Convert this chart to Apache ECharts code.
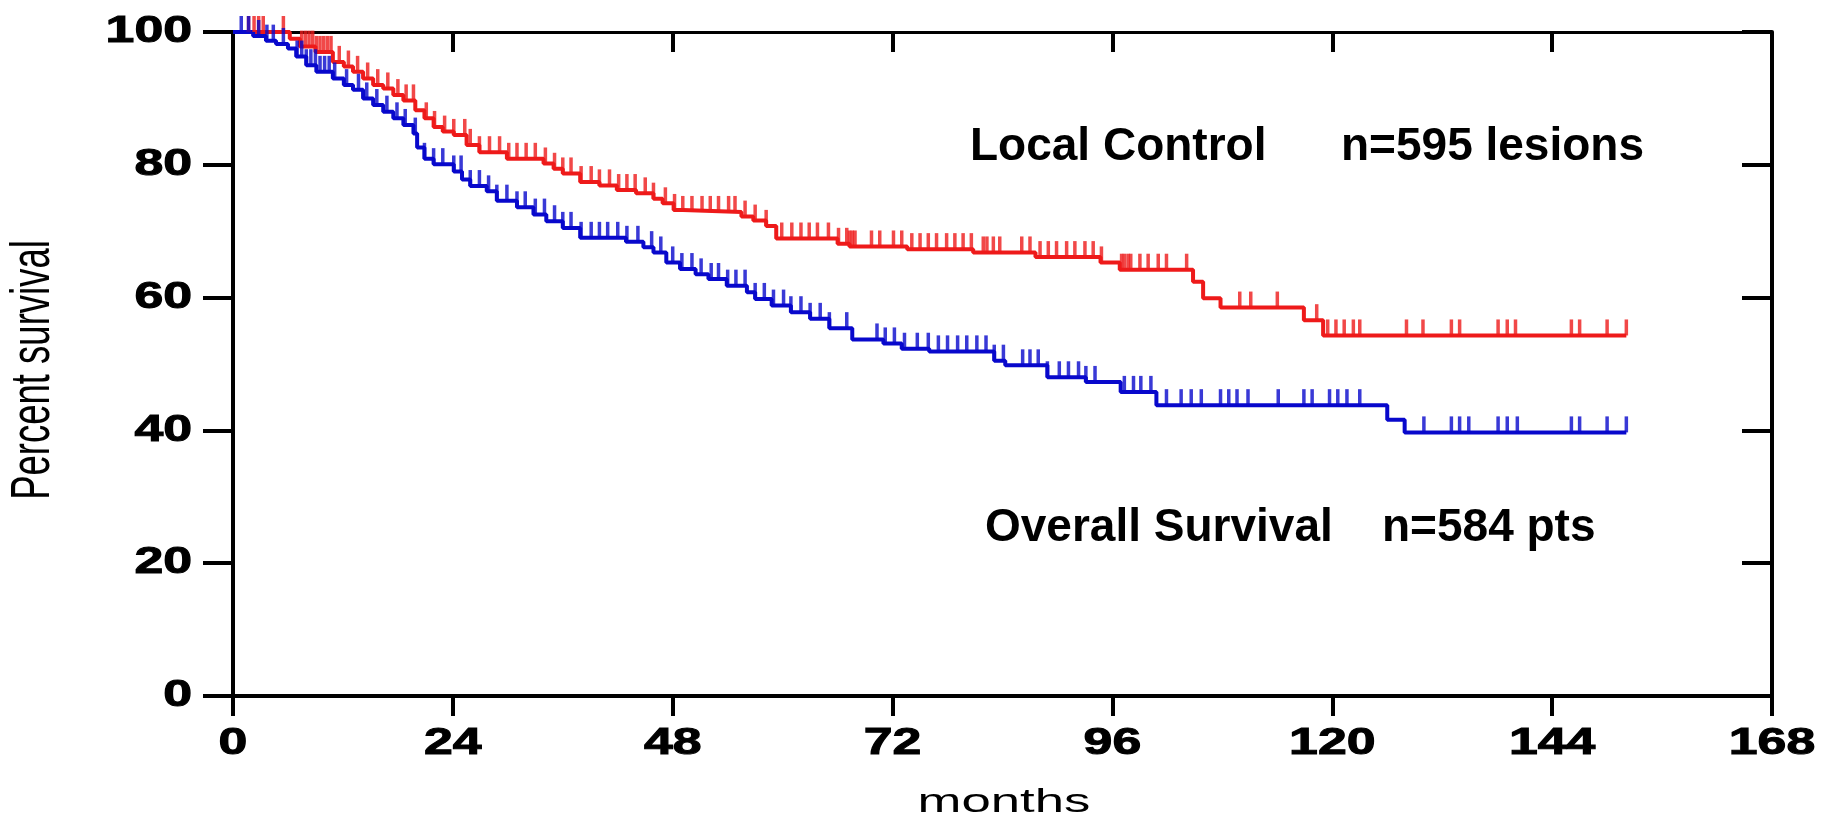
<!DOCTYPE html>
<html>
<head>
<meta charset="utf-8">
<title>Local control and overall survival</title>
<script src="https://cdn.jsdelivr.net/npm/echarts/dist/echarts.min.js"></script>
<style>
  html, body { margin: 0; padding: 0; background: #ffffff; }
  #chart { width: 1821px; height: 819px; }
</style>
</head>
<body>
<div id="chart"></div>
<script>
// Axis ticks
const monthTicks = [0, 24, 48, 72, 96, 120, 144, 168];
const percentTicks = [0, 20, 40, 60, 80, 100];

// Kaplan-Meier steps: [month, percent surviving after the event at that month]
const localControlSteps = [
  [0, 100], [6.2, 99.0], [7.3, 97.8], [9.0, 97.0], [10.9, 95.5], [12.1, 94.8],
  [13.1, 94.0], [14.2, 93.0], [15.3, 92.0], [16.4, 91.5], [17.5, 90.5], [18.6, 89.7],
  [19.9, 88.2], [20.9, 87.0], [21.9, 85.7], [22.9, 85.0], [24.1, 84.5], [25.5, 83.0],
  [26.9, 81.9], [29.9, 80.9], [33.9, 80.2], [35.0, 79.4], [36.0, 78.7], [37.9, 77.4],
  [40.0, 76.9], [41.9, 76.2], [44.0, 75.7], [45.9, 74.9], [46.9, 74.2], [48.1, 73.2],
  [49.1, 72.9], [55.5, 72.2], [56.8, 71.6], [58.2, 70.8], [59.3, 68.9], [66.0, 68.1],
  [67.3, 67.7], [73.6, 67.3], [80.8, 66.8], [87.6, 66.1], [94.7, 65.3], [96.8, 64.2],
  [104.8, 62.4], [105.9, 59.9], [107.8, 58.5], [116.9, 56.6], [119.0, 54.3], [152.1, 54.3]
];
const overallSurvivalSteps = [
  [0, 100], [2.2, 99.4], [3.6, 98.7], [4.7, 98.2], [6.0, 97.5], [6.9, 96.3],
  [8.0, 95.0], [9.1, 94.0], [10.9, 93.0], [12.1, 92.0], [13.1, 91.3], [14.2, 90.0],
  [15.3, 89.0], [16.4, 88.0], [17.5, 87.0], [18.6, 86.0], [19.7, 84.7], [20.1, 82.6],
  [20.9, 80.9], [21.9, 80.1], [24.1, 79.0], [25.0, 77.8], [25.9, 76.8], [27.7, 76.0],
  [28.8, 74.6], [31.0, 73.6], [32.8, 72.5], [34.2, 71.5], [36.0, 70.5], [37.9, 69.0],
  [42.9, 68.4], [44.8, 67.6], [45.9, 66.8], [47.3, 65.3], [48.8, 64.3], [50.5, 63.5],
  [51.9, 62.8], [53.9, 61.8], [56.1, 60.8], [57.0, 59.8], [58.8, 58.8], [60.9, 57.8],
  [63.0, 56.8], [65.1, 55.4], [67.6, 53.7], [71.0, 53.1], [73.0, 52.3], [76.0, 51.9],
  [83.1, 50.5], [84.3, 49.8], [88.9, 48.0], [93.1, 47.3], [96.9, 45.8], [100.8, 43.8],
  [126.0, 41.6], [127.9, 39.7], [152.1, 39.7]
];

// Censoring times (months)
const localControlCensored = [
  1.7, 2.3, 2.8, 3.3, 5.5, 7.5, 7.9, 8.3, 8.7, 9.1, 9.5, 9.9, 10.3, 10.7, 11.6, 12.6,
  13.6, 14.7, 15.8, 16.9, 18.0, 18.9, 19.7, 21.1, 22.0, 23.1, 24.1, 25.3, 25.9, 26.9,
  28.0, 29.1, 30.1, 31.0, 32.0, 33.0, 34.1, 35.1, 36.0, 36.9, 38.0, 39.1, 40.0, 41.1,
  42.1, 43.0, 43.9, 45.0, 45.9, 47.2, 48.2, 49.1, 50.1, 51.2, 52.1, 53.0, 54.1, 54.8,
  55.9, 57.0, 58.2, 59.9, 61.0, 62.0, 62.9, 63.8, 65.0, 66.1, 67.0, 67.3, 67.6, 67.9,
  69.7, 70.6, 72.1, 73.0, 74.1, 75.0, 75.9, 76.8, 77.9, 78.8, 79.7, 80.6, 81.9, 82.3,
  83.0, 83.7, 86.1, 87.0, 88.1, 89.0, 89.9, 91.0, 91.9, 93.0, 93.9, 94.8, 97.0, 97.3,
  97.7, 98.0, 99.0, 99.9, 101.0, 101.9, 104.1, 109.9, 111.1, 114.0, 118.3, 119.5,
  120.4, 121.3, 122.3, 123.0, 128.1, 129.9, 133.0, 133.9, 138.1, 139.1, 140.0, 146.1,
  147.0, 150.0, 152.1
];
const overallSurvivalCensored = [
  0.9, 1.7, 2.8, 3.7, 4.4, 5.5, 7.0, 7.5, 8.0, 8.5, 9.0, 9.5, 10.0, 10.5, 11.1, 12.4,
  13.7, 14.6, 15.7, 16.8, 17.9, 18.8, 19.9, 20.9, 21.9, 22.9, 24.1, 24.9, 25.9, 26.9,
  27.9, 28.8, 29.9, 31.0, 31.9, 33.0, 34.0, 35.1, 36.0, 36.9, 38.0, 39.1, 40.0, 40.9,
  42.0, 43.0, 44.2, 45.7, 46.7, 48.0, 49.0, 50.1, 51.1, 52.2, 53.0, 54.0, 54.9, 55.9,
  57.0, 58.0, 59.0, 60.1, 60.9, 62.0, 63.0, 64.1, 65.1, 67.0, 70.3, 71.2, 72.2, 73.3,
  74.7, 75.9, 77.0, 78.0, 79.1, 80.1, 81.2, 82.2, 83.1, 84.1, 86.2, 87.0, 87.9, 88.9,
  90.2, 91.2, 92.3, 93.1, 94.1, 97.3, 98.3, 99.1, 100.2, 101.9, 103.5, 104.6, 105.7,
  107.8, 108.7, 109.6, 110.8, 114.1, 116.9, 117.8, 119.7, 120.6, 121.6, 123.0, 130.0,
  133.0, 133.9, 134.9, 138.1, 139.1, 140.2, 146.1, 147.0, 150.0, 152.1
];

const RED = '#ee1a1a';
const BLUE = '#0808cc';

// Survival level of a step curve at month t
function levelAt(steps, t) {
  let v = steps[0][1];
  for (const [m, s] of steps) {
    if (m <= t) v = s; else break;
  }
  return v;
}

function censorPoints(steps, times) {
  return times.map(t => [t, levelAt(steps, t)]);
}

const frameColor = '#000000';

function stepSeries(name, steps, color) {
  return {
    name: name,
    type: 'line',
    step: 'end',
    data: steps,
    showSymbol: false,
    clip: false,
    lineStyle: { color: color, width: 4 },
    itemStyle: { color: color },
    z: 3
  };
}

function censorSeries(name, steps, times, color) {
  return {
    name: name,
    type: 'scatter',
    data: censorPoints(steps, times),
    symbol: 'rect',
    symbolSize: [3.5, 16],
    symbolOffset: [0, -8],
    clip: false,
    itemStyle: { color: color },
    z: 4
  };
}

const chart = echarts.init(document.getElementById('chart'), null, { renderer: 'canvas' });

const textFont = '"Liberation Sans", Arial, sans-serif';

const option = {
  animation: false,
  backgroundColor: '#ffffff',
  grid: { left: 233, right: 49, top: 32, bottom: 123 },
  xAxis: [
    {
      type: 'value', position: 'bottom', min: 0, max: 168, interval: 24,
      axisLine: { show: true, onZero: false, lineStyle: { color: frameColor, width: 4 } },
      axisTick: { show: true, inside: false, length: 20, lineStyle: { color: frameColor, width: 4 } },
      axisLabel: { show: false },
      splitLine: { show: false }
    },
    {
      type: 'value', position: 'top', min: 0, max: 168, interval: 24,
      axisLine: { show: true, onZero: false, lineStyle: { color: frameColor, width: 3 } },
      axisTick: { show: true, inside: true, length: 20, lineStyle: { color: frameColor, width: 4 } },
      axisLabel: { show: false },
      splitLine: { show: false }
    }
  ],
  yAxis: [
    {
      type: 'value', position: 'left', min: 0, max: 100, interval: 20,
      axisLine: { show: true, onZero: false, lineStyle: { color: frameColor, width: 4 } },
      axisTick: { show: true, inside: false, length: 30, lineStyle: { color: frameColor, width: 4 } },
      axisLabel: { show: false },
      splitLine: { show: false }
    },
    {
      type: 'value', position: 'right', min: 0, max: 100, interval: 20,
      axisLine: { show: true, onZero: false, lineStyle: { color: frameColor, width: 4 } },
      axisTick: { show: true, inside: true, length: 30, lineStyle: { color: frameColor, width: 4 } },
      axisLabel: { show: false },
      splitLine: { show: false }
    }
  ],
  series: [
    stepSeries('Local Control', localControlSteps, RED),
    censorSeries('Local Control censored', localControlSteps, localControlCensored, RED),
    stepSeries('Overall Survival', overallSurvivalSteps, BLUE),
    censorSeries('Overall Survival censored', overallSurvivalSteps, overallSurvivalCensored, BLUE)
  ]
};

chart.setOption(option);

// Tick labels, axis titles and curve annotations
function label(text, x, y, font, align, extra, heavy) {
  const style = {
    text: text,
    font: font,
    fill: '#000000',
    align: align,
    textAlign: align,
    verticalAlign: 'middle',
    textVerticalAlign: 'middle'
  };
  if (heavy) {
    style.stroke = '#000000';
    style.lineWidth = heavy;
  }
  return Object.assign({ type: 'text', x: x, y: y, silent: true, style: style }, extra || {});
}

const tickFont = 'bold 37px ' + textFont;
const elements = [];
const axisY = chart.convertToPixel({ yAxisIndex: 0 }, 0);
const axisX = chart.convertToPixel({ xAxisIndex: 0 }, 0);

monthTicks.forEach(m => {
  const px = chart.convertToPixel({ xAxisIndex: 0 }, m);
  elements.push(label(String(m), px, axisY + 48, tickFont, 'center', { scaleX: 1.4 }, 1));
});
percentTicks.forEach(p => {
  const py = chart.convertToPixel({ yAxisIndex: 0 }, p);
  elements.push(label(String(p), axisX - 41, py, tickFont, 'right', { scaleX: 1.4 }, 1));
});

elements.push(label('months', 1004, 803, '34px ' + textFont, 'center', { scaleX: 1.55 }));
elements.push(label('Percent survival', 34, 370, '36.5px ' + textFont, 'center',
  { rotation: Math.PI / 2, scaleY: 1.5 }));

const noteFont = 'bold 46px ' + textFont;
elements.push(label('Local Control', 970, 147, noteFont, 'left'));
elements.push(label('n=595 lesions', 1341, 147, noteFont, 'left'));
elements.push(label('Overall Survival', 985, 528, noteFont, 'left'));
elements.push(label('n=584 pts', 1382, 528, noteFont, 'left'));

chart.setOption({ graphic: { elements: elements } });
</script>
</body>
</html>
